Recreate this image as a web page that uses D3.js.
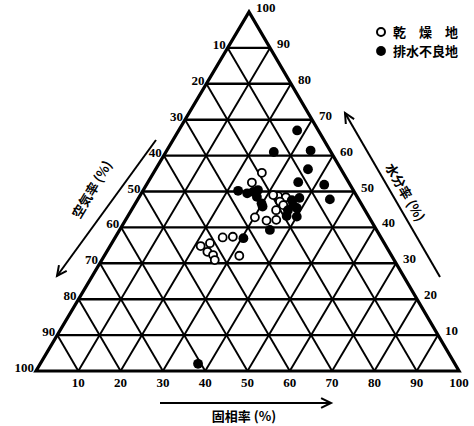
<!DOCTYPE html>
<html><head><meta charset="utf-8">
<script src="https://cdn.jsdelivr.net/npm/d3@7"></script>
<style>body{margin:0;background:#fff}svg{display:block}</style>
</head><body><svg id="c" width="474" height="426"></svg>
<script>
// ---- data (solid %, water %; air = 100 - solid - water) ----
const dryNames = ["乾　燥　地"];
const poorNames = ["排水不良地"];
const drySolid = [25.6, 24.6, 32.7, 34.7, 31.4, 33.9, 35.2, 34.2, 30.2, 33.4, 35.6, 25.4, 27.7, 21.4, 23.2, 23.8, 25.6, 31.9, 26.7];
const dryWater = [55.2, 52.5, 48.7, 48.4, 49.0, 47.2, 46.2, 44.8, 42.8, 41.9, 42.1, 37.2, 37.4, 34.8, 35.6, 33.2, 32.3, 32.1, 30.9];
const poorSolid = [28, 25.5, 34, 36, 35.5, 42, 22.5, 25, 26.2, 27.1, 27.8, 29.8, 45.4, 30.5, 37.5, 40, 35.5, 30.4, 36.5, 37.5, 37, 38.8, 38, 37.3];
const poorWater = [67, 61, 61.4, 56.2, 52.6, 51.9, 50.2, 49.5, 49.9, 50.4, 48.5, 46.7, 47.8, 45.8, 43.2, 43, 39.3, 37, 47.6, 46.2, 44.8, 45.4, 48.2, 2];
const gridSteps = [10, 20, 30, 40, 50, 60, 70, 80, 90];
const tickLabels = [10, 20, 30, 40, 50, 60, 70, 80, 90, 100];
const titleSolid = "固相率 (%)";
const titleAir = "空気率 (%)";
const titleWater = "水分率 (%)";

// ---- geometry ----
const L = [36, 371], R = [459, 371], A = [249, 12];
const sx = d3.scaleLinear().domain([0, 100]).range([0, R[0] - L[0]]);
const wx = d3.scaleLinear().domain([0, 100]).range([0, A[0] - L[0]]);
const wy = d3.scaleLinear().domain([0, 100]).range([L[1], A[1]]);
const P = (s, w) => [L[0] + sx(s) + wx(w), wy(w)];

const svg = d3.select("#c");
const g = svg.append("g");
const serif = "'Liberation Serif', 'DejaVu Serif', serif";
const cjk = "'Noto Sans CJK JP', sans-serif";

// grid
const lines = [];
gridSteps.forEach(k => {
  lines.push([P(0, k), P(100 - k, k), 2.4]);      // water const
  lines.push([P(k, 0), P(k, 100 - k), 1.9]);      // solid const
  lines.push([P(100 - k, 0), P(0, 100 - k), 1.9]); // air const
});
g.selectAll("line.grid").data(lines).join("line")
  .attr("x1", d => d[0][0]).attr("y1", d => d[0][1])
  .attr("x2", d => d[1][0]).attr("y2", d => d[1][1])
  .attr("stroke", "#000").attr("stroke-width", d => d[2]);
g.append("path")
  .attr("d", d3.line()([P(0, 0), P(100, 0), P(0, 100)]) + "Z")
  .attr("fill", "none").attr("stroke", "#000").attr("stroke-width", 3.2).attr("stroke-linejoin", "miter");

// tick labels
const lab = svg.append("g").attr("font-family", serif).attr("font-weight", "bold").attr("font-size", 13).attr("fill", "#000");
tickLabels.forEach(t => {
  const b = P(t, 0);
  lab.append("text").attr("x", b[0]).attr("y", b[1] + 16).attr("text-anchor", "middle").text(t);
  const l = P(0, 100 - t);
  lab.append("text").attr("x", l[0] - 2).attr("y", l[1] + 1).attr("text-anchor", "end").text(t);
  const r = P(100 - t, t);
  lab.append("text").attr("x", r[0] + 7).attr("y", r[1] + 0).attr("text-anchor", "start").text(t);
});

// points
const dry = drySolid.map((s, i) => [s, dryWater[i]]);
const poor = poorSolid.map((s, i) => [s, poorWater[i]]);
svg.append("g").selectAll("circle").data(dry).join("circle")
  .attr("cx", d => P(d[0], d[1])[0]).attr("cy", d => P(d[0], d[1])[1])
  .attr("r", 4).attr("fill", "#fff").attr("stroke", "#000").attr("stroke-width", 1.8);
svg.append("g").selectAll("circle").data(poor).join("circle")
  .attr("cx", d => P(d[0], d[1])[0]).attr("cy", d => P(d[0], d[1])[1])
  .attr("r", 4.9).attr("fill", "#000");

// legend
const lg = svg.append("g").attr("font-family", cjk).attr("font-weight", "bold").attr("font-size", 13).attr("fill", "#000");
lg.append("circle").attr("cx", 381).attr("cy", 32).attr("r", 4).attr("fill", "#fff").attr("stroke", "#000").attr("stroke-width", 2);
lg.append("text").attr("x", 393).attr("y", 37).text(dryNames[0]);
lg.append("circle").attr("cx", 381).attr("cy", 51).attr("r", 4.9).attr("fill", "#000");
lg.append("text").attr("x", 393).attr("y", 56).text(poorNames[0]);

// axis titles with arrows
function arrow(x1, y1, x2, y2) {
  svg.append("line").attr("x1", x1).attr("y1", y1).attr("x2", x2).attr("y2", y2)
    .attr("stroke", "#000").attr("stroke-width", 2);
  const ang = Math.atan2(y2 - y1, x2 - x1), h = 11, sp = 0.45;
  const pts = [[x2 - h * Math.cos(ang - sp), y2 - h * Math.sin(ang - sp)], [x2, y2], [x2 - h * Math.cos(ang + sp), y2 - h * Math.sin(ang + sp)]];
  svg.append("path").attr("d", d3.line()(pts)).attr("fill", "none").attr("stroke", "#000").attr("stroke-width", 2);
}
arrow(160, 403, 331, 403);
arrow(156, 140, 57, 276);
arrow(440, 277, 345, 113);

const tt = svg.append("g").attr("font-family", cjk).attr("font-weight", "bold").attr("font-size", 13).attr("fill", "#000").attr("text-anchor", "middle").attr("dominant-baseline", "middle");
tt.append("text").attr("x", 244).attr("y", 417).text(titleSolid);
tt.append("text").attr("transform", `translate(93,190) rotate(${-(Math.atan2(L[1]-A[1], A[0]-L[0]) * 180 / Math.PI)})`).text(titleAir);
tt.append("text").attr("transform", `translate(404,193) rotate(${Math.atan2(R[1]-A[1], R[0]-A[0]) * 180 / Math.PI})`).text(titleWater);
</script></body></html>
